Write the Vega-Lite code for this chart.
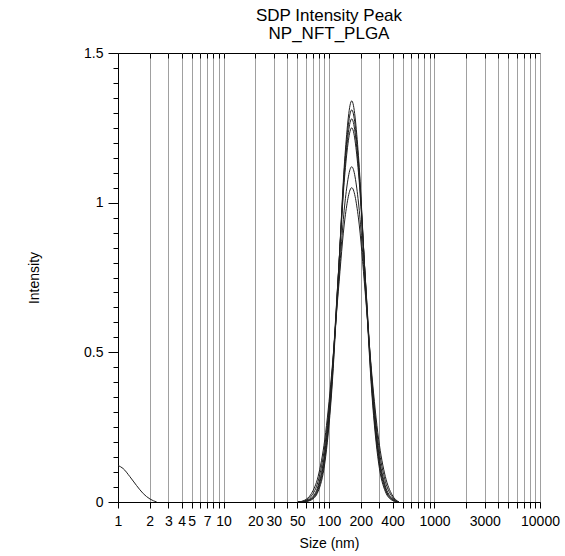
{
  "$schema": "https://vega.github.io/schema/vega-lite/v6.json",
  "width": 422,
  "height": 449,
  "autosize": {"type": "none"},
  "padding": {"left": 118, "top": 53, "right": 25, "bottom": 54},
  "background": "white",
  "title": {
    "text": ["SDP Intensity Peak", "NP_NFT_PLGA"],
    "font": "Liberation Sans",
    "fontSize": 17,
    "fontWeight": "normal",
    "color": "black",
    "anchor": "middle",
    "frame": "group",
    "lineHeight": 18,
    "offset": 3
  },
  "config": {
    "view": {"stroke": "black", "strokeWidth": 1},
    "axis": {
      "labelFont": "Liberation Sans",
      "labelFontSize": 14,
      "labelColor": "black",
      "titleFont": "Liberation Sans",
      "titleFontSize": 14,
      "titleFontWeight": "normal",
      "titleColor": "black",
      "domainColor": "black",
      "tickColor": "black"
    }
  },
  "data": {
    "values": [
      {"s": "r1", "x": 50.75, "y": 0},
      {"s": "r1", "x": 58.77, "y": 0.001},
      {"s": "r1", "x": 68.06, "y": 0.007},
      {"s": "r1", "x": 78.82, "y": 0.035},
      {"s": "r1", "x": 91.28, "y": 0.130},
      {"s": "r1", "x": 105.7, "y": 0.361},
      {"s": "r1", "x": 122.4, "y": 0.748},
      {"s": "r1", "x": 141.8, "y": 1.158},
      {"s": "r1", "x": 164.2, "y": 1.34},
      {"s": "r1", "x": 190.1, "y": 1.158},
      {"s": "r1", "x": 220.2, "y": 0.748},
      {"s": "r1", "x": 255.0, "y": 0.361},
      {"s": "r1", "x": 295.3, "y": 0.130},
      {"s": "r1", "x": 342.0, "y": 0.035},
      {"s": "r1", "x": 396.1, "y": 0.006},
      {"s": "r1", "x": 458.7, "y": 0},

      {"s": "r2", "x": 50.75, "y": 0},
      {"s": "r2", "x": 58.77, "y": 0.0015},
      {"s": "r2", "x": 68.06, "y": 0.009},
      {"s": "r2", "x": 78.82, "y": 0.041},
      {"s": "r2", "x": 91.28, "y": 0.143},
      {"s": "r2", "x": 105.7, "y": 0.376},
      {"s": "r2", "x": 122.4, "y": 0.752},
      {"s": "r2", "x": 141.8, "y": 1.140},
      {"s": "r2", "x": 164.2, "y": 1.31},
      {"s": "r2", "x": 190.1, "y": 1.140},
      {"s": "r2", "x": 220.2, "y": 0.752},
      {"s": "r2", "x": 255.0, "y": 0.376},
      {"s": "r2", "x": 295.3, "y": 0.143},
      {"s": "r2", "x": 342.0, "y": 0.041},
      {"s": "r2", "x": 396.1, "y": 0.008},
      {"s": "r2", "x": 458.7, "y": 0},

      {"s": "r3", "x": 50.75, "y": 0},
      {"s": "r3", "x": 58.77, "y": 0.002},
      {"s": "r3", "x": 68.06, "y": 0.011},
      {"s": "r3", "x": 78.82, "y": 0.047},
      {"s": "r3", "x": 91.28, "y": 0.155},
      {"s": "r3", "x": 105.7, "y": 0.390},
      {"s": "r3", "x": 122.4, "y": 0.755},
      {"s": "r3", "x": 141.8, "y": 1.122},
      {"s": "r3", "x": 164.2, "y": 1.28},
      {"s": "r3", "x": 190.1, "y": 1.122},
      {"s": "r3", "x": 220.2, "y": 0.755},
      {"s": "r3", "x": 255.0, "y": 0.390},
      {"s": "r3", "x": 295.3, "y": 0.155},
      {"s": "r3", "x": 342.0, "y": 0.047},
      {"s": "r3", "x": 396.1, "y": 0.010},
      {"s": "r3", "x": 458.7, "y": 0},

      {"s": "r4", "x": 50.75, "y": 0},
      {"s": "r4", "x": 58.77, "y": 0.003},
      {"s": "r4", "x": 68.06, "y": 0.013},
      {"s": "r4", "x": 78.82, "y": 0.054},
      {"s": "r4", "x": 91.28, "y": 0.167},
      {"s": "r4", "x": 105.7, "y": 0.403},
      {"s": "r4", "x": 122.4, "y": 0.756},
      {"s": "r4", "x": 141.8, "y": 1.102},
      {"s": "r4", "x": 164.2, "y": 1.25},
      {"s": "r4", "x": 190.1, "y": 1.102},
      {"s": "r4", "x": 220.2, "y": 0.756},
      {"s": "r4", "x": 255.0, "y": 0.403},
      {"s": "r4", "x": 295.3, "y": 0.167},
      {"s": "r4", "x": 342.0, "y": 0.054},
      {"s": "r4", "x": 396.1, "y": 0.012},
      {"s": "r4", "x": 458.7, "y": 0},

      {"s": "r5", "x": 50.75, "y": 0},
      {"s": "r5", "x": 58.77, "y": 0.004},
      {"s": "r5", "x": 68.06, "y": 0.020},
      {"s": "r5", "x": 78.82, "y": 0.069},
      {"s": "r5", "x": 91.28, "y": 0.188},
      {"s": "r5", "x": 105.7, "y": 0.411},
      {"s": "r5", "x": 122.4, "y": 0.717},
      {"s": "r5", "x": 141.8, "y": 1.002},
      {"s": "r5", "x": 164.2, "y": 1.12},
      {"s": "r5", "x": 190.1, "y": 1.002},
      {"s": "r5", "x": 220.2, "y": 0.717},
      {"s": "r5", "x": 255.0, "y": 0.411},
      {"s": "r5", "x": 295.3, "y": 0.188},
      {"s": "r5", "x": 342.0, "y": 0.069},
      {"s": "r5", "x": 396.1, "y": 0.018},
      {"s": "r5", "x": 458.7, "y": 0},

      {"s": "r6", "x": 50.75, "y": 0},
      {"s": "r6", "x": 58.77, "y": 0.006},
      {"s": "r6", "x": 68.06, "y": 0.028},
      {"s": "r6", "x": 78.82, "y": 0.085},
      {"s": "r6", "x": 91.28, "y": 0.210},
      {"s": "r6", "x": 105.7, "y": 0.424},
      {"s": "r6", "x": 122.4, "y": 0.702},
      {"s": "r6", "x": 141.8, "y": 0.949},
      {"s": "r6", "x": 164.2, "y": 1.05},
      {"s": "r6", "x": 190.1, "y": 0.949},
      {"s": "r6", "x": 220.2, "y": 0.702},
      {"s": "r6", "x": 255.0, "y": 0.424},
      {"s": "r6", "x": 295.3, "y": 0.210},
      {"s": "r6", "x": 342.0, "y": 0.085},
      {"s": "r6", "x": 396.1, "y": 0.024},
      {"s": "r6", "x": 458.7, "y": 0},

      {"s": "r7", "x": 1.0, "y": 0.122},
      {"s": "r7", "x": 1.117, "y": 0.112},
      {"s": "r7", "x": 1.294, "y": 0.085},
      {"s": "r7", "x": 1.499, "y": 0.055},
      {"s": "r7", "x": 1.736, "y": 0.028},
      {"s": "r7", "x": 2.01, "y": 0.010},
      {"s": "r7", "x": 2.328, "y": 0.0}
    ]
  },
  "encoding": {
    "y": {
      "field": "y",
      "type": "quantitative",
      "scale": {"domain": [0, 1.5], "nice": false},
      "axis": {
        "title": "Intensity",
        "values": [0,0.05,0.1,0.15,0.2,0.25,0.3,0.35,0.4,0.45,0.5,0.55,0.6,0.65,0.7,0.75,0.8,0.85,0.9,0.95,1,1.05,1.1,1.15,1.2,1.25,1.3,1.35,1.4,1.45,1.5],
        "labelExpr": "indexof([0,0.5,1,1.5], datum.value) >= 0 ? datum.value + '' : ''",
        "tickSize": {"condition": {"test": "indexof([0,0.5,1,1.5], datum.value) >= 0", "value": 10}, "value": 5},
        "labelPadding": 5,
        "labelOverlap": false,
        "labelFlush": false,
        "grid": false,
        "titlePadding": 42
      }
    },
    "detail": {"field": "s", "type": "nominal"}
  },
  "layer": [
    {
      "mark": {"type": "line", "interpolate": "monotone", "color": "#202020", "strokeWidth": 1, "clip": true},
      "encoding": {
        "x": {
          "field": "x",
          "type": "quantitative",
          "scale": {"type": "log", "domain": [1, 10000], "nice": false},
          "axis": {
            "title": "Size (nm)",
            "values": [1,2,3,4,5,6,7,8,9,10,20,30,40,50,60,70,80,90,100,200,300,400,500,600,700,800,900,1000,2000,3000,4000,5000,6000,7000,8000,9000,10000],
            "labelExpr": "indexof([1,2,3,4,5,7,10,20,30,50,100,200,400,1000,3000,10000], datum.value) >= 0 ? format(datum.value, 'd') : ''",
            "labelOverlap": false,
            "labelFlush": false,
            "grid": true,
            "gridColor": "#a0a0a0",
            "gridWidth": 1,
            "gridOpacity": 1,
            "tickSize": 6,
            "labelPadding": 6,
            "titlePadding": 8
          }
        }
      }
    },
    {
      "mark": {"type": "line", "opacity": 0},
      "encoding": {
        "x": {
          "field": "x",
          "type": "quantitative",
          "scale": {"type": "log", "domain": [1, 10000], "nice": false},
          "axis": {
            "orient": "top",
            "title": null,
            "labels": false,
            "domain": false,
            "grid": false,
            "offset": -5,
            "values": [2,3,4,5,6,7,8,9,10,20,30,40,50,60,70,80,90,100,200,300,400,500,600,700,800,900,1000,2000,3000,4000,5000,6000,7000,8000,9000],
            "tickSize": 5
          }
        }
      }
    }
  ],
  "resolve": {"axis": {"x": "independent"}}
}
